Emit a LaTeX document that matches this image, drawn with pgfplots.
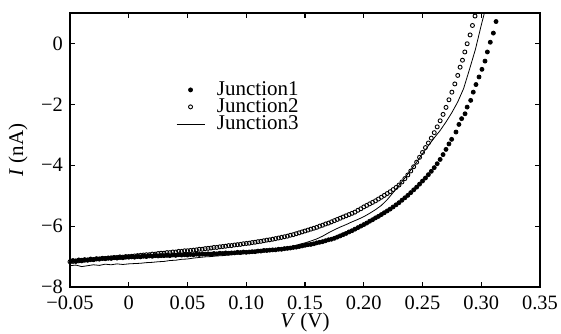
\documentclass[border=0pt]{standalone}
\usepackage{fontspec}
\setmainfont{Liberation Serif}
\usepackage{pgfplots}
\pgfplotsset{compat=1.18}
\begin{document}
\begin{tikzpicture}
\begin{axis}[
  scale only axis, width=235pt, height=137pt,
  xmin=-0.05, xmax=0.35, ymin=-8, ymax=1,
  xtick={-0.05,0,0.05,0.1,0.15,0.2,0.25,0.3,0.35},
  xticklabels={−0.05,0,0.05,0.10,0.15,0.20,0.25,0.30,0.35},
  ytick={-8,-6,-4,-2,0},
  yticklabels={−8,−6,−4,−2,0},
  tick align=inside, major tick length=2.5pt,
  axis line style={line width=0.6pt},
  every tick/.style={black, line width=0.6pt},
  tick label style={font=\fontsize{10.2}{12}\selectfont},
  xticklabel style={yshift=-1pt},
  xlabel={\textit{V} (V)}, ylabel={\textit{I} (nA)},
  label style={font=\fontsize{10.5}{12}\selectfont},
  xlabel style={at={(axis description cs:0.5,-0.13)}, anchor=center},
  ylabel style={at={(axis description cs:-0.1106,0.5)}, anchor=center},
  legend image code/.code={\draw[mark repeat=2,mark phase=2,#1] plot coordinates {(0pt,0pt) (7pt,0pt) (14pt,0pt)};},
  legend style={at={(axis cs:0.040,-1.25)}, anchor=north west, draw=none, fill=none,
    inner sep=0pt, row sep=0.5pt, font=\fontsize{10.5}{11}\selectfont,
    nodes={inner xsep=2pt, inner ysep=0pt, text height=7pt, text depth=1pt},
    /tikz/every odd column/.append style={column sep=4pt}},
  legend cell align=left,
]
\addplot[only marks, mark=*, mark size=1pt, black] coordinates {
(-0.0475,-7.13) (-0.045,-7.14) (-0.0425,-7.11) (-0.04,-7.12) (-0.0375,-7.10) (-0.035,-7.11)
(-0.0325,-7.08) (-0.03,-7.10) (-0.0275,-7.07) (-0.025,-7.08) (-0.0225,-7.06) (-0.02,-7.07)
(-0.0175,-7.05) (-0.015,-7.06) (-0.0125,-7.04) (-0.01,-7.05) (-0.0075,-7.03) (-0.005,-7.04)
(-0.0025,-7.02) (0,-7.02) (0.0025,-7.01) (0.005,-7.02) (0.0075,-7.00) (0.01,-7.01)
(0.0125,-6.99) (0.015,-7.00) (0.0175,-6.98) (0.02,-6.99) (0.0225,-6.97) (0.025,-6.98)
(0.0275,-6.97) (0.03,-6.97) (0.0325,-6.96) (0.035,-6.97) (0.0375,-6.95) (0.04,-6.96)
(0.0425,-6.94) (0.045,-6.95) (0.0475,-6.94) (0.05,-6.95) (0.0525,-6.93) (0.055,-6.94)
(0.0575,-6.92) (0.06,-6.93) (0.0625,-6.92) (0.065,-6.92) (0.0675,-6.91) (0.07,-6.92)
(0.0725,-6.90) (0.075,-6.91) (0.0775,-6.89) (0.08,-6.90) (0.0825,-6.88) (0.085,-6.89)
(0.0875,-6.88) (0.09,-6.88) (0.0925,-6.86) (0.095,-6.87) (0.0975,-6.85) (0.1,-6.86)
(0.1025,-6.85) (0.105,-6.84) (0.1075,-6.84) (0.11,-6.82) (0.1125,-6.82) (0.115,-6.80)
(0.1175,-6.80) (0.12,-6.79) (0.1225,-6.78) (0.125,-6.78) (0.1275,-6.76) (0.13,-6.76)
(0.1325,-6.74) (0.135,-6.73) (0.1375,-6.72) (0.14,-6.70) (0.1425,-6.69) (0.145,-6.67)
(0.1475,-6.65) (0.15,-6.63) (0.1525,-6.61) (0.155,-6.60) (0.1575,-6.58) (0.16,-6.55)
(0.1625,-6.53) (0.165,-6.51) (0.1675,-6.48) (0.17,-6.45) (0.1725,-6.43) (0.175,-6.40)
(0.1775,-6.36) (0.18,-6.32) (0.1825,-6.28) (0.185,-6.24) (0.1875,-6.19) (0.19,-6.15)
(0.1925,-6.10) (0.195,-6.05) (0.1975,-6.00) (0.2,-5.95) (0.2025,-5.90) (0.205,-5.84)
(0.2075,-5.79) (0.21,-5.73) (0.2125,-5.68) (0.215,-5.62) (0.2175,-5.56) (0.22,-5.50)
(0.2225,-5.44) (0.225,-5.37) (0.2275,-5.30) (0.23,-5.23) (0.2325,-5.15) (0.235,-5.07)
(0.2375,-4.99) (0.24,-4.90) (0.2425,-4.81) (0.245,-4.72) (0.2475,-4.62) (0.25,-4.52)
(0.2525,-4.42) (0.255,-4.31) (0.2575,-4.20) (0.26,-4.08) (0.2625,-3.95) (0.265,-3.81)
(0.2675,-3.65) (0.27,-3.48) (0.2725,-3.30) (0.2748,-3.15) (0.2785,-2.91) (0.281,-2.66)
(0.2833,-2.47) (0.2862,-2.31) (0.288,-2.09) (0.291,-1.87) (0.2932,-1.60) (0.2955,-1.35)
(0.2981,-1.10) (0.3006,-0.85) (0.3032,-0.58) (0.3052,-0.28) (0.3077,0.04) (0.3103,0.34)
(0.3126,0.72)
};
\addlegendentry{Junction1}
\addplot[only marks, mark=o, mark size=1pt, black, mark options={line width=0.45pt}] coordinates {
(-0.05,-7.17) (-0.0475,-7.16) (-0.045,-7.16) (-0.0425,-7.14) (-0.04,-7.14) (-0.0375,-7.12)
(-0.035,-7.12) (-0.0325,-7.10) (-0.03,-7.10) (-0.0275,-7.08) (-0.025,-7.08) (-0.0225,-7.06)
(-0.02,-7.06) (-0.0175,-7.05) (-0.015,-7.04) (-0.0125,-7.03) (-0.01,-7.03) (-0.0075,-7.01)
(-0.005,-7.02) (-0.0025,-7.00) (0,-7.00) (0.0025,-6.99) (0.005,-6.98) (0.0075,-6.97)
(0.01,-6.96) (0.0125,-6.95) (0.015,-6.94) (0.0175,-6.94) (0.02,-6.92) (0.0225,-6.92)
(0.025,-6.90) (0.0275,-6.89) (0.03,-6.89) (0.0325,-6.87) (0.035,-6.87) (0.0375,-6.85)
(0.04,-6.85) (0.0425,-6.83) (0.045,-6.83) (0.0475,-6.81) (0.05,-6.81) (0.0525,-6.80)
(0.055,-6.79) (0.0575,-6.78) (0.06,-6.76) (0.0625,-6.76) (0.065,-6.74) (0.0675,-6.73)
(0.07,-6.72) (0.0725,-6.70) (0.075,-6.70) (0.0775,-6.68) (0.08,-6.67) (0.0825,-6.66)
(0.085,-6.64) (0.0875,-6.64) (0.09,-6.62) (0.0925,-6.61) (0.095,-6.60) (0.0975,-6.58)
(0.1,-6.57) (0.1025,-6.56) (0.105,-6.54) (0.1075,-6.53) (0.11,-6.51) (0.1125,-6.50)
(0.115,-6.48) (0.1175,-6.46) (0.12,-6.45) (0.1225,-6.43) (0.125,-6.41) (0.1275,-6.39)
(0.13,-6.37) (0.1325,-6.35) (0.135,-6.33) (0.1375,-6.30) (0.14,-6.28) (0.1425,-6.25)
(0.145,-6.22) (0.1475,-6.19) (0.15,-6.16) (0.1525,-6.13) (0.155,-6.10) (0.1575,-6.07)
(0.16,-6.04) (0.1625,-6.00) (0.165,-5.97) (0.1675,-5.93) (0.17,-5.90) (0.1725,-5.86)
(0.175,-5.82) (0.1775,-5.78) (0.18,-5.74) (0.1825,-5.70) (0.185,-5.66) (0.1875,-5.62)
(0.19,-5.58) (0.1925,-5.54) (0.195,-5.48) (0.1975,-5.43) (0.2,-5.37) (0.2025,-5.32)
(0.205,-5.27) (0.2075,-5.22) (0.21,-5.17) (0.2125,-5.11) (0.215,-5.05) (0.2175,-4.99)
(0.22,-4.93) (0.2225,-4.87) (0.225,-4.80) (0.2275,-4.73) (0.23,-4.65) (0.2325,-4.55)
(0.235,-4.44) (0.2375,-4.32) (0.24,-4.19) (0.2425,-4.05) (0.245,-3.90) (0.2475,-3.74)
(0.25,-3.58) (0.2525,-3.42) (0.255,-3.27) (0.2575,-3.11) (0.26,-2.93) (0.2625,-2.74)
(0.265,-2.54) (0.2675,-2.33) (0.27,-2.10) (0.2725,-1.85) (0.275,-1.60) (0.2775,-1.33)
(0.28,-1.05) (0.282,-0.78) (0.284,-0.55) (0.286,-0.28) (0.288,-0.01) (0.2905,0.28)
(0.2925,0.59) (0.2947,0.90)
};
\addlegendentry{Junction2}
\addplot[black, line width=0.4pt, no marks] coordinates {
(-0.05,-7.30) (-0.045,-7.28) (-0.04,-7.33) (-0.035,-7.30) (-0.03,-7.27) (-0.025,-7.29)
(-0.02,-7.25) (-0.015,-7.27) (-0.01,-7.24) (-0.005,-7.26) (0,-7.24) (0.005,-7.23)
(0.01,-7.22) (0.015,-7.20) (0.02,-7.19) (0.025,-7.17) (0.03,-7.16) (0.035,-7.13)
(0.04,-7.12) (0.045,-7.09) (0.05,-7.08) (0.055,-7.05) (0.06,-7.03) (0.065,-7.01)
(0.07,-7.00) (0.075,-6.98) (0.08,-6.97) (0.085,-6.95) (0.09,-6.93) (0.095,-6.92)
(0.1,-6.90) (0.105,-6.88) (0.11,-6.86) (0.115,-6.83) (0.12,-6.80) (0.125,-6.77)
(0.13,-6.73) (0.135,-6.70) (0.14,-6.66) (0.145,-6.60) (0.15,-6.55) (0.155,-6.49)
(0.16,-6.42) (0.165,-6.33) (0.17,-6.22) (0.175,-6.12) (0.18,-6.03) (0.185,-5.95)
(0.19,-5.86) (0.195,-5.78) (0.2,-5.69) (0.205,-5.58) (0.21,-5.46) (0.215,-5.32)
(0.22,-5.13) (0.225,-4.90) (0.23,-4.66) (0.235,-4.42) (0.24,-4.16) (0.245,-3.90)
(0.25,-3.62) (0.255,-3.36) (0.26,-3.10) (0.265,-2.86) (0.27,-2.58) (0.275,-2.27)
(0.28,-1.92) (0.285,-1.48) (0.29,-0.85) (0.295,-0.20) (0.3,0.60) (0.305,1.35)
};
\addlegendentry{Junction3}
\end{axis}
\pgfresetboundingbox
\path ([xshift=-35pt,yshift=-23pt]current axis.south west) rectangle ([xshift=10.5pt,yshift=6.5pt]current axis.north east);
\end{tikzpicture}
\end{document}
